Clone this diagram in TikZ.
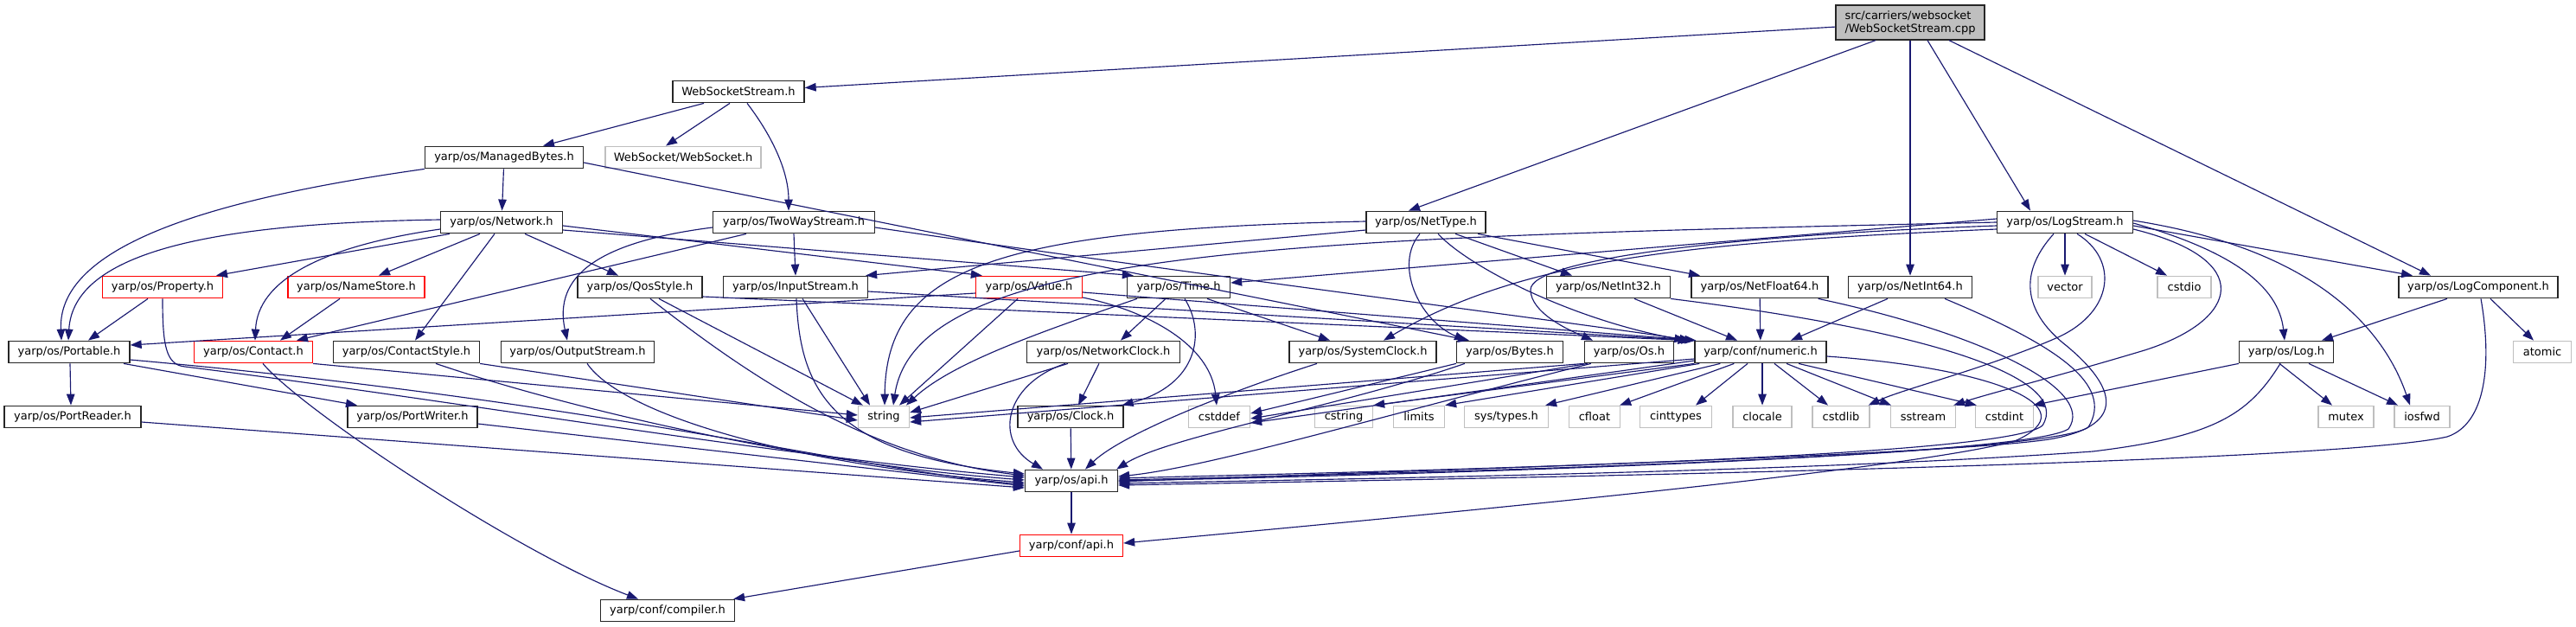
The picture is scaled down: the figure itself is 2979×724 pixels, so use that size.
\documentclass[tikz,border=0pt]{standalone}
\usepackage{fontspec}
\newfontfamily\dvs{DejaVu Sans}
\usetikzlibrary{arrows.meta}
\definecolor{mb}{HTML}{191970}
\definecolor{g75}{HTML}{BFBFBF}
\begin{document}
\begin{tikzpicture}[x=1pt,y=-1pt,
  fb/.style={draw=black!85, line width=1.3pt, fill=white, minimum height=25.5pt, inner sep=0pt, font=\dvs\fontsize{13}{15}\selectfont},
  rb/.style={fb, draw=red},
  gb/.style={fb, draw=g75},
  ed/.style={draw=mb, line width=1.15pt, -{Triangle[length=13pt,width=9.5pt]}}]
\useasboundingbox (0,0) rectangle (2979,724);
% rank 0
\node[fb, fill=g75, minimum width=172pt, minimum height=40pt, align=left] (src) at (2209,26) {src/carriers/websocket\\/WebSocketStream.cpp};
% rank 1
\node[fb, minimum width=152pt] (wss) at (854,106) {WebSocketStream.h};
% rank 2
\node[fb, minimum width=183pt] (mb) at (583,182) {yarp/os/ManagedBytes.h};
\node[gb, minimum width=180pt] (ws) at (790,182) {WebSocket/WebSocket.h};
% rank 3
\node[fb, minimum width=141pt] (net) at (580,257) {yarp/os/Network.h};
\node[fb, minimum width=187pt] (tws) at (918,257) {yarp/os/TwoWayStream.h};
\node[fb, minimum width=138pt] (nettype) at (1649,257) {yarp/os/NetType.h};
\node[fb, minimum width=157pt] (logstream) at (2388,257) {yarp/os/LogStream.h};
% rank 4
\node[rb, minimum width=139pt] (property) at (188,332) {yarp/os/Property.h};
\node[rb, minimum width=158pt] (namestore) at (412,332) {yarp/os/NameStore.h};
\node[fb, minimum width=144pt] (qos) at (740,332) {yarp/os/QosStyle.h};
\node[fb, minimum width=167pt] (input) at (920,332) {yarp/os/InputStream.h};
\node[rb, minimum width=123pt] (value) at (1190,332) {yarp/os/Value.h};
\node[fb, minimum width=119pt] (time) at (1363,332) {yarp/os/Time.h};
\node[fb, minimum width=143pt] (nint32) at (1860,332) {yarp/os/NetInt32.h};
\node[fb, minimum width=158pt] (netfloat) at (2035,332) {yarp/os/NetFloat64.h};
\node[fb, minimum width=143pt] (nint64) at (2209,332) {yarp/os/NetInt64.h};
\node[gb, minimum width=62pt] (vector) at (2388,332) {vector};
\node[gb, minimum width=62pt] (cstdio) at (2526,332) {cstdio};
\node[fb, minimum width=184pt] (logcomp) at (2866,332) {yarp/os/LogComponent.h};
% rank 5
\node[fb, minimum width=140pt] (portable) at (80,407) {yarp/os/Portable.h};
\node[rb, minimum width=137pt] (contact) at (293,407) {yarp/os/Contact.h};
\node[fb, minimum width=169pt] (contactstyle) at (470,407) {yarp/os/ContactStyle.h};
\node[fb, minimum width=177pt] (output) at (668,407) {yarp/os/OutputStream.h};
\node[fb, minimum width=177pt] (networkclock) at (1276,407) {yarp/os/NetworkClock.h};
\node[fb, minimum width=170pt] (systemclock) at (1576,407) {yarp/os/SystemClock.h};
\node[fb, minimum width=123pt] (bytes) at (1746,407) {yarp/os/Bytes.h};
\node[fb, minimum width=103pt] (os) at (1884,407) {yarp/os/Os.h};
\node[fb, minimum width=152pt] (numeric) at (2036,407) {yarp/conf/numeric.h};
\node[fb, minimum width=109pt] (log) at (2644,407) {yarp/os/Log.h};
\node[gb, minimum width=67pt] (atomic) at (2940,407) {atomic};
% rank 6
\node[fb, minimum width=158pt] (portreader) at (84,482) {yarp/os/PortReader.h};
\node[fb, minimum width=150pt] (portwriter) at (477,482) {yarp/os/PortWriter.h};
\node[gb, minimum width=59pt] (string) at (1022,482) {string};
\node[fb, minimum width=122pt] (clock) at (1238,482) {yarp/os/Clock.h};
\node[gb, minimum width=71pt] (cstddef) at (1410,482) {cstddef};
\node[gb, minimum width=67pt] (cstring) at (1554,482) {cstring};
\node[gb, minimum width=59pt] (limits) at (1641,482) {limits};
\node[gb, minimum width=97pt] (systypes) at (1742,482) {sys/types.h};
\node[gb, minimum width=59pt] (cfloat) at (1844,482) {cfloat};
\node[gb, minimum width=83pt] (cinttypes) at (1938,482) {cinttypes};
\node[gb, minimum width=68pt] (clocale) at (2038,482) {clocale};
\node[gb, minimum width=66pt] (cstdlib) at (2129,482) {cstdlib};
\node[gb, minimum width=75pt] (sstream) at (2224,482) {sstream};
\node[gb, minimum width=67pt] (cstdint) at (2318,482) {cstdint};
\node[gb, minimum width=64pt] (mutex) at (2713,482) {mutex};
\node[gb, minimum width=64pt] (iosfwd) at (2801,482) {iosfwd};
% rank 7-9
\node[fb, minimum width=107pt] (osapi) at (1239,556) {yarp/os/api.h};
\node[rb, minimum width=119pt] (confapi) at (1239,631) {yarp/conf/api.h};
\node[fb, minimum width=155pt] (compiler) at (772,706) {yarp/conf/compiler.h};

% ---- source
\draw[ed] (src) -- (wss);
\draw[ed] ([xshift=-40pt]src.south) -- ([xshift=-20pt]nettype.north);
\draw[ed] (src.south) -- (nint64.north);
\draw[ed] ([xshift=20pt]src.south) -- ([xshift=-40pt]logstream.north);
\draw[ed] ([xshift=45pt]src.south) -- ([xshift=-55pt]logcomp.north);
% ---- WebSocketStream.h
\draw[ed] ([xshift=-40pt]wss.south) -- ([xshift=45pt]mb.north);
\draw[ed] ([xshift=-10pt]wss.south) -- ([xshift=-20pt]ws.north);
\draw[ed] ([xshift=10pt]wss.south) .. controls (895,160) and (912,200) .. ([xshift=-6pt]tws.north);
% ---- ManagedBytes.h
\draw[ed] (mb) -- (net);
\draw[ed] (mb.south west) .. controls (260,228) and (66,280) .. ([xshift=-9pt]portable.north);
\draw[ed] ([yshift=-6pt]mb.east) -- ([xshift=-47pt]bytes.north);
% ---- Network.h
\draw[ed] ([yshift=3pt]net.west) .. controls (250,258) and (85,290) .. ([xshift=-1pt]portable.north);
\draw[ed] ([yshift=-8pt]net.west) .. controls (370,285) and (298,325) .. ([xshift=2pt]contact.north);
\draw[ed] ([xshift=-60pt]net.south) -- ([xshift=62pt]property.north);
\draw[ed] ([xshift=-25pt]net.south) -- ([xshift=26pt]namestore.north);
\draw[ed] ([xshift=-8pt]net.south) -- ([xshift=10pt]contactstyle.north);
\draw[ed] ([xshift=27pt]net.south) -- ([xshift=-25pt]qos.north);
\draw[ed] ([yshift=-4pt]net.east) -- ([xshift=8pt]value.north west);
\draw[ed] ([yshift=-9pt]net.east) -- ([xshift=8pt]time.north west);
% ---- TwoWayStream.h
\draw[ed] (tws.south) -- (input.north);
\draw[ed] ([yshift=-6pt]tws.west) .. controls (690,280) and (640,320) .. ([xshift=-12pt]output.north);
\draw[ed] ([xshift=-55pt]tws.south) -- ([xshift=50pt]contact.north);
\draw[ed] ([yshift=-6pt]tws.east) .. controls (1400,320) and (1800,370) .. ([xshift=-4pt]numeric.north west);
% ---- Property / NameStore
\draw[ed] ([xshift=-17pt]property.south) -- ([xshift=22pt]portable.north);
\draw[ed] (property.south) .. controls (188,400) and (192,422) .. (214,424) .. controls (520,462) and (900,528) .. ([yshift=4pt]osapi.west);
\draw[ed] ([xshift=-19pt]namestore.south) -- ([xshift=31pt]contact.north);
% ---- Contact / ContactStyle / OutputStream
\draw[ed] ([xshift=11pt]contact.south) .. controls (350,475) and (600,640) .. ([xshift=-34pt]compiler.north);
\draw[ed] (contact.south east) -- ([yshift=2pt]string.west);
\draw[ed] (contactstyle.south east) -- ([yshift=-4pt]string.west);
\draw[ed] ([xshift=34pt]contactstyle.south) .. controls (650,470) and (920,535) .. ([yshift=1pt]osapi.west);
\draw[ed] ([xshift=11pt]output.south) .. controls (720,480) and (920,538) .. ([yshift=-2pt]osapi.west);
% ---- Portable / PortReader / PortWriter
\draw[ed] ([xshift=1pt]portable.south) -- ([xshift=-2pt]portreader.north);
\draw[ed] ([xshift=63pt]portable.south) -- ([xshift=-64pt]portwriter.north);
\draw[ed] ([yshift=-9pt]portable.east) .. controls (700,465) and (1000,545) .. ([yshift=-4pt]osapi.west);
\draw[ed] ([yshift=-6pt]portreader.east) -- ([yshift=-8pt]osapi.west);
\draw[ed] ([yshift=-8pt]portwriter.east) -- ([yshift=-6pt]osapi.west);
% ---- QosStyle / InputStream
\draw[ed] ([xshift=22pt]qos.south) -- ([xshift=6pt]string.north west);
\draw[ed] ([xshift=12pt]qos.south) .. controls (860,430) and (1000,528) .. ([yshift=6pt]osapi.west);
\draw[ed] ([yshift=-11pt]qos.east) -- ([xshift=-6pt]numeric.north west);
\draw[ed] ([xshift=8pt]input.south) -- ([xshift=-16pt]string.north);
\draw[ed] ([xshift=1pt]input.south) .. controls (925,450) and (960,525) .. ([yshift=8pt]osapi.west);
\draw[ed] ([yshift=-5pt]input.east) -- ([xshift=-2pt]numeric.north west);
% ---- Value.h
\draw[ed] ([yshift=-7pt]value.west) -- ([yshift=8pt]portable.east);
\draw[ed] ([xshift=-13pt]value.south) -- ([xshift=18pt]string.north);
\draw[ed] ([yshift=-12pt]value.east) .. controls (1330,360) and (1400,400) .. ([xshift=-3pt]cstddef.north);
\draw[ed] ([yshift=-6pt]value.east) -- ([xshift=2pt]numeric.north west);
% ---- Time.h
\draw[ed] ([xshift=-15pt]time.south) -- ([xshift=20pt]networkclock.north);
\draw[ed] ([xshift=7pt]time.south) .. controls (1395,385) and (1385,445) .. ([xshift=-2pt]clock.north east);
\draw[ed] ([xshift=-48pt]time.south) .. controls (1200,385) and (1100,420) .. ([xshift=26pt]string.north);
\draw[ed] ([xshift=33pt]time.south) -- ([xshift=-38pt]systemclock.north);
% ---- NetworkClock / Clock / SystemClock
\draw[ed] ([xshift=-41pt]networkclock.south) -- ([yshift=5pt]string.east);
\draw[ed] ([xshift=-5pt]networkclock.south) -- ([xshift=9pt]clock.north);
\draw[ed] ([xshift=-44pt]networkclock.south) .. controls (1160,445) and (1150,510) .. ([xshift=-33pt]osapi.north);
\draw[ed] (clock) -- (osapi);
\draw[ed] ([xshift=-53pt]systemclock.south) .. controls (1430,450) and (1300,500) .. ([xshift=16pt]osapi.north);
% ---- Bytes / Os
\draw[ed] (bytes.south west) -- ([yshift=4pt]cstddef.east);
\draw[ed] ([xshift=10pt]bytes.south west) .. controls (1550,470) and (1350,505) .. ([xshift=-2pt]osapi.north east);
\draw[ed] (os.south west) -- ([yshift=-1pt]string.east);
\draw[ed] ([xshift=4pt]os.south west) -- ([yshift=-2pt]cstddef.east);
\draw[ed] ([xshift=8pt]os.south west) .. controls (1600,480) and (1400,540) .. ([yshift=5pt]osapi.east);
% ---- numeric.h
\draw[ed] ([yshift=-8pt]numeric.west) -- ([yshift=-6pt]string.east);
\draw[ed] ([yshift=-10pt]numeric.west) -- ([yshift=-7pt]cstddef.east);
\draw[ed] (numeric.south west) -- (cstring.north east);
\draw[ed] ([xshift=6pt]numeric.south west) -- (limits.north east);
\draw[ed] ([xshift=30pt]numeric.south west) -- ([xshift=-4pt]systypes.north east);
\draw[ed] ([xshift=46pt]numeric.south west) -- ([xshift=-1pt]cfloat.north east);
\draw[ed] ([xshift=-15pt]numeric.south) -- ([xshift=23pt]cinttypes.north);
\draw[ed] ([xshift=2pt]numeric.south) -- (clocale.north);
\draw[ed] ([xshift=16pt]numeric.south) -- ([xshift=-15pt]cstdlib.north);
\draw[ed] ([xshift=30pt]numeric.south) -- ([xshift=-37pt]sstream.north);
\draw[ed] ([xshift=44pt]numeric.south) -- ([xshift=2pt]cstdint.north west);
\draw[ed] ([yshift=-5pt]numeric.east) .. controls (2300,425) and (2420,470) .. (2330,510) .. controls (2200,545) and (1600,600) .. ([yshift=3pt]confapi.east);
% ---- NetType.h
\draw[ed] ([yshift=1pt]nettype.west) .. controls (1150,265) and (1025,310) .. ([xshift=1pt]string.north);
\draw[ed] ([yshift=-9pt]nettype.west) -- ([xshift=-3pt]input.north east);
\draw[ed] ([xshift=-7pt]nettype.south) .. controls (1612,305) and (1640,370) .. ([xshift=-51pt]bytes.north);
\draw[ed] ([xshift=14pt]nettype.south) .. controls (1700,310) and (1820,370) .. ([xshift=-10pt]numeric.north west);
\draw[ed] ([xshift=34pt]nettype.south) -- ([xshift=-42pt]nint32.north);
\draw[ed] ([xshift=60pt]nettype.south) -- ([xshift=-69pt]netfloat.north);
% ---- NetInt32 / NetFloat64 / NetInt64
\draw[ed] ([xshift=30pt]nint32.south) -- ([xshift=-27pt]numeric.north);
\draw[ed] (nint32.south east) .. controls (2250,385) and (2395,440) .. (2362,492) .. controls (2320,530) and (1600,545) .. ([yshift=3pt]osapi.east);
\draw[ed] (netfloat) -- (numeric);
\draw[ed] ([xshift=-12pt]netfloat.south east) .. controls (2290,385) and (2425,450) .. (2392,496) .. controls (2340,530) and (1600,548) .. ([yshift=1pt]osapi.east);
\draw[ed] ([xshift=-26pt]nint64.south) -- ([xshift=35pt]numeric.north);
\draw[ed] ([xshift=40pt]nint64.south) .. controls (2380,400) and (2445,445) .. (2415,494) .. controls (2370,528) and (1600,550) .. (osapi.east);
% ---- LogStream.h
\draw[ed] ([yshift=4pt]logstream.west) -- ([yshift=5pt]time.east);
\draw[ed] (logstream.west) .. controls (1500,275) and (1060,285) .. ([xshift=11pt]string.north);
\draw[ed] ([yshift=-4pt]logstream.west) .. controls (2000,272) and (1770,300) .. (1770,335) .. controls (1770,362) and (1815,382) .. ([xshift=-42pt]os.north);
\draw[ed] ([yshift=-8pt]logstream.west) .. controls (1950,280) and (1760,300) .. ([xshift=24pt]systemclock.north);
\draw[ed] (logstream) -- (vector);
\draw[ed] ([xshift=23pt]logstream.south) -- ([xshift=-20pt]cstdio.north);
\draw[ed] ([yshift=-4pt]logstream.east) -- ([xshift=-76pt]logcomp.north);
\draw[ed] ([yshift=-1pt]logstream.east) .. controls (2580,290) and (2635,330) .. ([xshift=-2pt]log.north);
\draw[ed] ([yshift=2pt]logstream.east) .. controls (2690,290) and (2760,390) .. ([xshift=-14pt]iosfwd.north);
\draw[ed] ([xshift=14pt]logstream.south) .. controls (2450,300) and (2445,360) .. (2380,390) .. controls (2300,425) and (2200,450) .. ([xshift=-2pt]cstdlib.north east);
\draw[ed] ([yshift=-8pt]logstream.east) .. controls (2610,300) and (2590,370) .. (2480,405) .. controls (2380,435) and (2300,455) .. ([xshift=-3pt]sstream.north east);
\draw[ed] ([xshift=-13pt]logstream.south) .. controls (2330,320) and (2345,365) .. (2390,400) .. controls (2450,450) and (2455,490) .. (2380,506) .. controls (2300,525) and (1600,545) .. ([yshift=-1pt]osapi.east);
% ---- LogComponent.h / Log.h
\draw[ed] ([xshift=-36pt]logcomp.south) -- ([xshift=41pt]log.north);
\draw[ed] ([xshift=14pt]logcomp.south) -- ([xshift=-10pt]atomic.north);
\draw[ed] ([xshift=3pt]logcomp.south) .. controls (2882,420) and (2875,490) .. (2830,505) .. controls (2700,535) and (1800,552) .. ([yshift=-5pt]osapi.east);
\draw[ed] ([xshift=-8pt]log.south) -- ([xshift=-16pt]mutex.north);
\draw[ed] ([xshift=26pt]log.south) -- ([xshift=-28pt]iosfwd.north);
\draw[ed] (log.south west) -- ([xshift=-1pt]cstdint.north east);
\draw[ed] ([xshift=-7pt]log.south) .. controls (2600,480) and (2560,505) .. (2420,522) .. controls (2100,545) and (1600,553) .. ([yshift=-3pt]osapi.east);
% ---- api
\draw[ed] (osapi) -- (confapi);
\draw[ed] ([yshift=-6pt]confapi.west) -- ([xshift=-2pt]compiler.north east);
\end{tikzpicture}
\end{document}
